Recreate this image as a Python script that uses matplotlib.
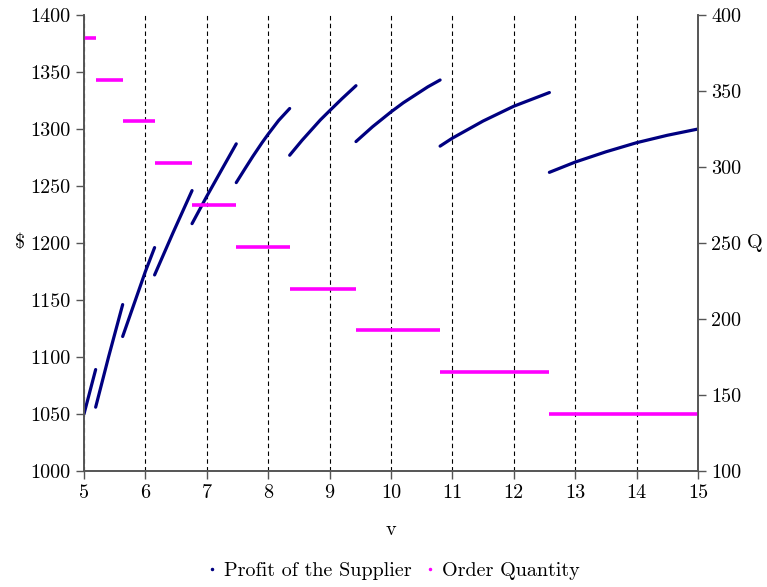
import matplotlib.pyplot as plt
from matplotlib.lines import Line2D

# Supplier profit, one piece per order-quantity regime
profit_v = [
    [5.00, 5.19],
    [5.19, 5.40, 5.63],
    [5.63, 6.00, 6.15],
    [6.15, 6.45, 6.76],
    [6.76, 7.00, 7.25, 7.48],
    [7.48, 7.62, 7.75, 7.90, 8.00, 8.17, 8.35],
    [8.35, 8.55, 8.70, 8.85, 9.00, 9.20, 9.43],
    [9.43, 9.70, 10.00, 10.20, 10.40, 10.60, 10.80],
    [10.80, 11.00, 11.50, 12.00, 12.58],
    [12.58, 13.00, 13.50, 14.00, 14.50, 15.00],
]
profit = [
    [1050, 1089],
    [1056, 1100, 1146],
    [1118, 1175, 1196],
    [1172, 1209, 1246],
    [1217, 1241, 1265, 1287],
    [1253, 1265, 1276, 1288, 1295.5, 1307.5, 1318],
    [1277, 1290, 1299, 1308, 1316, 1326.5, 1338],
    [1289, 1302, 1315, 1323, 1330, 1337, 1343],
    [1285, 1292, 1307, 1320, 1332],
    [1262, 1271, 1280, 1288, 1294.5, 1300],
]

# Order quantity, constant between break points of v
q_breaks = [5.00, 5.19, 5.63, 6.15, 6.76, 7.48, 8.35, 9.43, 10.80, 12.58, 15.00]
order_qty = [385, 357.5, 330, 302.5, 275, 247.5, 220, 192.5, 165, 137.5]

navy = "#000080"
magenta = "#FF00FF"
grey = "#555555"


def main():
    plt.rcParams["font.family"] = ["cmr10", "DejaVu Serif"]
    plt.rcParams["font.size"] = 14.5

    fig = plt.figure(figsize=(7.67, 5.87), dpi=100)
    ax = fig.add_axes([0.1095, 0.1976, 0.8005, 0.7768])
    ax2 = ax.twinx()

    for xs, ys in zip(profit_v, profit):
        ax.plot(xs, ys, color=navy, lw=2.3, solid_capstyle="round",
                solid_joinstyle="round")

    ax2.hlines(order_qty, q_breaks[:-1], q_breaks[1:], color=magenta, lw=2.6)

    ax.set_xlim(5, 15)
    ax.set_ylim(1000, 1400)
    ax2.set_ylim(100, 400)
    ax.set_xticks(range(5, 16))
    ax.set_yticks(range(1000, 1401, 50))
    ax2.set_yticks(range(100, 401, 50))

    ax.grid(axis="x", color="black", linestyle=(0, (4, 3)), lw=0.8)
    ax.set_axisbelow(True)

    for a in (ax, ax2):
        a.spines["top"].set_visible(False)
        for s in ("left", "right", "bottom"):
            a.spines[s].set_color(grey)
            a.spines[s].set_linewidth(1.2)
        a.tick_params(direction="out", length=6, width=1, color=grey, labelsize=14.5)

    ax.set_xlabel("v", labelpad=14)
    ax.set_ylabel("\\$", rotation=0, labelpad=8, va="center")
    ax2.set_ylabel("Q", rotation=0, labelpad=10, va="center")

    handles = [
        Line2D([], [], color=navy, marker=".", markersize=3, lw=0),
        Line2D([], [], color=magenta, marker=".", markersize=3, lw=0),
    ]
    fig.legend(handles, ["Profit of the Supplier", "Order Quantity"],
               loc="center", bbox_to_anchor=(0.512, 0.027), ncol=2, frameon=False,
               handlelength=0.6, handletextpad=0.3, columnspacing=0.6, fontsize=14.5)

    fig.savefig("out.png", dpi=100)


if __name__ == "__main__":
    main()
